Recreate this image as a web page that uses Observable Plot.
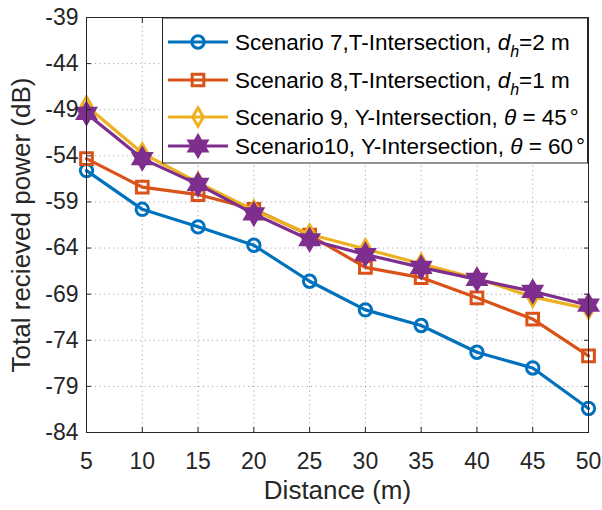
<!DOCTYPE html>
<html>
<head>
<meta charset="utf-8">
<script src="https://cdn.jsdelivr.net/npm/d3@7"></script>
<script src="https://cdn.jsdelivr.net/npm/@observablehq/plot@0.6"></script>
<style>
  html, body { margin: 0; padding: 0; background: #fff; }
  #chart { width: 602px; height: 510px; }
  svg { font-family: "Liberation Sans", Arial, Helvetica, sans-serif; }
</style>
</head>
<body>
<div id="chart"></div>
<script>
// Distance samples (m)
const distance = [5, 10, 15, 20, 25, 30, 35, 40, 45, 50];

// Total received power (dB) per scenario
const scenario7 = [-55.6, -59.8, -61.7, -63.7, -67.6, -70.7, -72.4, -75.3, -77.0, -81.4];
const scenario8 = [-54.3, -57.4, -58.2, -59.8, -62.6, -66.1, -67.2, -69.4, -71.7, -75.7];
const scenario9 = [-48.6, -53.7, -56.9, -59.9, -62.5, -64.1, -65.7, -67.3, -69.3, -70.6];
const scenario10 = [-49.4, -54.3, -57.1, -60.3, -63.1, -64.7, -66.1, -67.4, -68.7, -70.2];

// Axis ticks
const xTicks = [5, 10, 15, 20, 25, 30, 35, 40, 45, 50];
const yTicks = [-39, -44, -49, -54, -59, -64, -69, -74, -79, -84];

const xLabel = "Distance (m)";
const yLabel = "Total recieved power (dB)";

// Six-pointed star marker
const hexagram = {
  draw(ctx, size) {
    const R = Math.sqrt(size) * 0.78;
    const r = R / Math.sqrt(3);
    for (let i = 0; i < 12; i++) {
      const a = Math.PI / 6 * i - Math.PI / 2;
      const rad = i % 2 === 0 ? R : r;
      const x = rad * Math.cos(a), y = rad * Math.sin(a);
      if (i === 0) ctx.moveTo(x, y); else ctx.lineTo(x, y);
    }
    ctx.closePath();
  }
};

const series = [
  {values: scenario7, color: "#0072BD", symbol: "circle", r: 6.2, fill: "none",
   label: [["Scenario 7,T-Intersection, "], ["d", "it"], ["h", "sub"], ["=2 m"]]},
  {values: scenario8, color: "#D95319", symbol: "square", r: 6.6, fill: "none",
   label: [["Scenario 8,T-Intersection, "], ["d", "it"], ["h", "sub"], ["=1 m"]]},
  {values: scenario9, color: "#EDB120", symbol: "diamond", r: 5.6, fill: "none",
   label: [["Scenario 9, Y-Intersection, "], ["θ", "it"], [" = 45"], ["°", "deg"]]},
  {values: scenario10, color: "#7E2F8E", symbol: hexagram, r: 7.4, fill: "#7E2F8E",
   label: [["Scenario10, Y-Intersection, "], ["θ", "it"], [" = 60"], ["°", "deg"]]}
];

const rows = series.map(s => distance.map((d, i) => ({distance: d, power: s.values[i]})));

const axisColor = "#262626";
const fmt = d => String(d);

const marks = [
  Plot.gridX(xTicks, {stroke: "#000", strokeOpacity: 0.35, strokeDasharray: "1.2,3.3", strokeWidth: 1}),
  Plot.gridY(yTicks, {stroke: "#000", strokeOpacity: 0.35, strokeDasharray: "1.2,3.3", strokeWidth: 1})
];

series.forEach((s, k) => {
  marks.push(Plot.line(rows[k], {x: "distance", y: "power", stroke: s.color, strokeWidth: 3.2}));
  marks.push(Plot.dot(rows[k], {x: "distance", y: "power", symbol: () => s.symbol, r: s.r,
    stroke: s.color, strokeWidth: 3, fill: s.fill}));
});

marks.push(
  // inward tick marks on all four sides
  Plot.axisX(xTicks, {anchor: "bottom", tickSize: -5, tickFormat: () => "", stroke: axisColor, label: null}),
  Plot.axisX(xTicks, {anchor: "top", tickSize: -5, tickFormat: () => "", stroke: axisColor, label: null}),
  Plot.axisY(yTicks, {anchor: "left", tickSize: -5, tickFormat: () => "", stroke: axisColor, label: null}),
  Plot.axisY(yTicks, {anchor: "right", tickSize: -5, tickFormat: () => "", stroke: axisColor, label: null}),
  // tick labels
  Plot.axisX(xTicks, {anchor: "bottom", tickSize: 0, tickPadding: 20, tickFormat: fmt, fontSize: 23, fill: axisColor, label: null}),
  Plot.axisY(yTicks, {anchor: "left", tickSize: 0, tickPadding: 8, tickFormat: fmt, fontSize: 23, fill: axisColor, label: null}),
  Plot.frame({stroke: axisColor, strokeWidth: 1}),
  // axis titles
  Plot.text([xLabel], {frameAnchor: "bottom", dy: 66, text: d => d, fontSize: 26, fill: axisColor}),
  Plot.text([yLabel], {frameAnchor: "left", textAnchor: "middle", dx: -65, rotate: -90, text: d => d, fontSize: 26, fill: axisColor})
);

const chart = Plot.plot({
  width: 602,
  height: 510,
  marginLeft: 86,
  marginRight: 14,
  marginTop: 17,
  marginBottom: 78,
  x: {domain: [5, 50]},
  y: {domain: [-84, -39]},
  style: {fontFamily: '"Liberation Sans", Arial, Helvetica, sans-serif', background: "#fff"},
  marks
});

// Legend box in the upper right of the plot area
const svg = d3.select(chart);
const legend = svg.append("g").attr("class", "legend").attr("text-anchor", "start");
const box = {x: 162.5, y: 18, w: 425, h: 145};
legend.append("rect")
  .attr("x", box.x).attr("y", box.y).attr("width", box.w).attr("height", box.h)
  .attr("fill", "#fff").attr("stroke", axisColor).attr("stroke-width", 1);

const rowY = [42, 80, 117, 146];
series.forEach((s, k) => {
  const y = rowY[k];
  legend.append("line")
    .attr("x1", 168).attr("x2", 228).attr("y1", y).attr("y2", y)
    .attr("stroke", s.color).attr("stroke-width", 3.2);
  const type = typeof s.symbol === "string"
    ? {circle: d3.symbolCircle, square: d3.symbolSquare, diamond: d3.symbolDiamond}[s.symbol]
    : s.symbol;
  legend.append("path")
    .attr("transform", `translate(198,${y})`)
    .attr("d", d3.symbol(type, Math.PI * s.r * s.r)())
    .attr("fill", s.fill).attr("stroke", s.color).attr("stroke-width", 3);
  const text = legend.append("text")
    .attr("x", 235).attr("y", y).attr("dy", "0.36em")
    .attr("text-anchor", "start")
    .attr("font-size", 22.5).attr("fill", "#000");
  s.label.forEach(([str, style], i) => {
    const t = text.append("tspan").text(str);
    if (style === "it") t.attr("font-style", "italic");
    if (style === "sub") t.attr("font-style", "italic").attr("font-size", 16).attr("dy", 7);
    if (style === "deg") t.attr("dx", 3);
    // back to the main baseline after a subscript
    if (i > 0 && s.label[i - 1][1] === "sub") t.attr("dy", -7);
  });
});

document.getElementById("chart").appendChild(chart);
</script>
</body>
</html>
